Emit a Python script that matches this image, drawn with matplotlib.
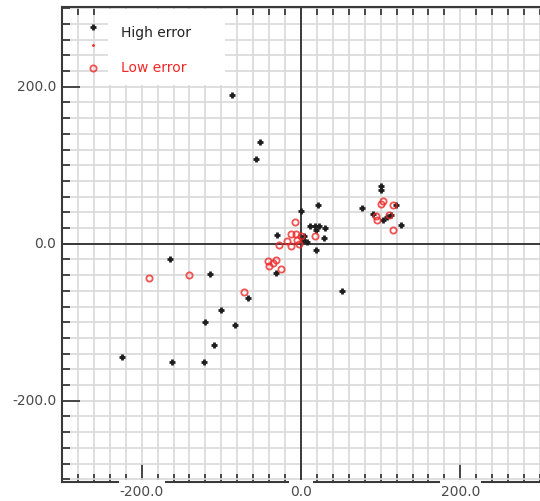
import matplotlib
matplotlib.use("Agg")
import matplotlib.pyplot as plt
from matplotlib.patches import Rectangle
from matplotlib.ticker import MultipleLocator
import matplotlib.transforms as mtransforms

# high error points (black plus)
high_x = [-87, -51, -57, -164, -114, -66, -101, -120, -83, -109, -225, -162, -122,
          -31, -30, 21, 0, 11, 17, 23, 30, 19, 29, 4, 8, 3, 19, 52,
          76, 101, 101, 119, 91, 113, 108, 103, 126]
high_y = [190, 129, 108, -20, -39, -69, -85, -100, -103, -129, -144, -150, -150,
          -37, 11, 50, 42, 22, 23, 23, 20, 17, 7, 10, 2, 5, -8, -60,
          45, 73, 69, 50, 38, 37, 34, 30, 24]

# low error points (red circles)
low_x = [-191, -141, -71, -25, -42, -35, -40, -32, -8, 17, -12, -6, 0, -27, -17,
         -13, -5, -2, 103, 101, 116, 94, 96, 110, 116]
low_y = [-44, -40, -62, -32, -22, -24, -28, -21, 28, 10, 12, 12, 10, -2, 3,
         -3, 5, 0, 55, 51, 49, 35, 30, 36, 18]

xtick_labels = [-200.0, 0.0, 200.0]
ytick_labels = [-200.0, 0.0, 200.0]

dark = '#3a3a3a'
red = '#f02828'

fig = plt.figure(figsize=(5.4, 5.01), dpi=100)
ax = fig.add_axes([62/540, 19.4/501, 478/540, 474.9/501])
ax.set_xlim(-300, 300)
ax.set_ylim(-303, 302)

ax.xaxis.set_major_locator(MultipleLocator(200))
ax.xaxis.set_minor_locator(MultipleLocator(20))
ax.yaxis.set_major_locator(MultipleLocator(200))
ax.yaxis.set_minor_locator(MultipleLocator(20))
ax.grid(True, which='both', color='#d9d9d9', lw=1.2, zorder=0)
ax.set_axisbelow(True)

ax.tick_params(which='both', direction='in', color=dark, width=1.3,
               top=True, right=False, labelbottom=False, labelleft=False)
ax.tick_params(which='major', length=13)
ax.tick_params(which='minor', length=6)
ax.tick_params(axis='x', which='major', top=False)
for s in ax.spines.values():
    s.set_color(dark)
    s.set_linewidth(1.5)
ax.spines['right'].set_visible(False)

ax.axhline(0, color=dark, lw=1.4, zorder=1)
ax.axvline(0, color=dark, lw=1.4, zorder=1)

ax.plot(high_x, high_y, ls='none', marker='+', ms=5, mew=2, color='#1e1e1e', zorder=3)
ax.plot(low_x, low_y, ls='none', marker='o', ms=4.5, mew=1.3, mfc='none',
        mec=red, alpha=0.8, zorder=4)

# tick labels drawn by hand so they can break the bottom axis line
trans_x = mtransforms.blended_transform_factory(ax.transData, ax.transAxes)
trans_y = mtransforms.blended_transform_factory(ax.transAxes, ax.transData)
fig.canvas.draw()
renderer = fig.canvas.get_renderer()
for v in xtick_labels:
    t = ax.text(v, -0.022, f'{v:.1f}', transform=trans_x, ha='center', va='center',
                fontsize=10, color='#4a4a4a', clip_on=False, zorder=6)
    bb = t.get_window_extent(renderer)
    ax.add_patch(Rectangle((bb.x0 - 1, bb.y0 - 2), bb.width + 2, 19.4 - bb.y0 + 4,
                           transform=None, facecolor='white', edgecolor='none',
                           clip_on=False, zorder=5))
for v in ytick_labels:
    ax.text(-0.012, v, f'{v:.1f}', transform=trans_y, ha='right', va='center',
            fontsize=10, color='#4a4a4a', clip_on=False)

# legend
ax.add_patch(Rectangle((0.096, 0.835), 0.245, 0.16, transform=ax.transAxes,
                       facecolor='white', edgecolor='none', zorder=2))
ax.plot([0.065], [0.957], transform=ax.transAxes, marker='+', ms=5, mew=2,
        color='#1e1e1e', zorder=3)
ax.plot([0.065], [0.919], transform=ax.transAxes, marker='.', ms=2,
        color=red, zorder=3)
ax.plot([0.065], [0.871], transform=ax.transAxes, marker='o', ms=4.5, mew=1.3,
        mfc='none', mec=red, alpha=0.8, zorder=3)
ax.text(0.123, 0.945, 'High error', transform=ax.transAxes, va='center',
        fontsize=10, color='#222222', zorder=3)
ax.text(0.123, 0.871, 'Low error', transform=ax.transAxes, va='center',
        fontsize=10, color=red, zorder=3)

fig.savefig('out.png', dpi=100)
